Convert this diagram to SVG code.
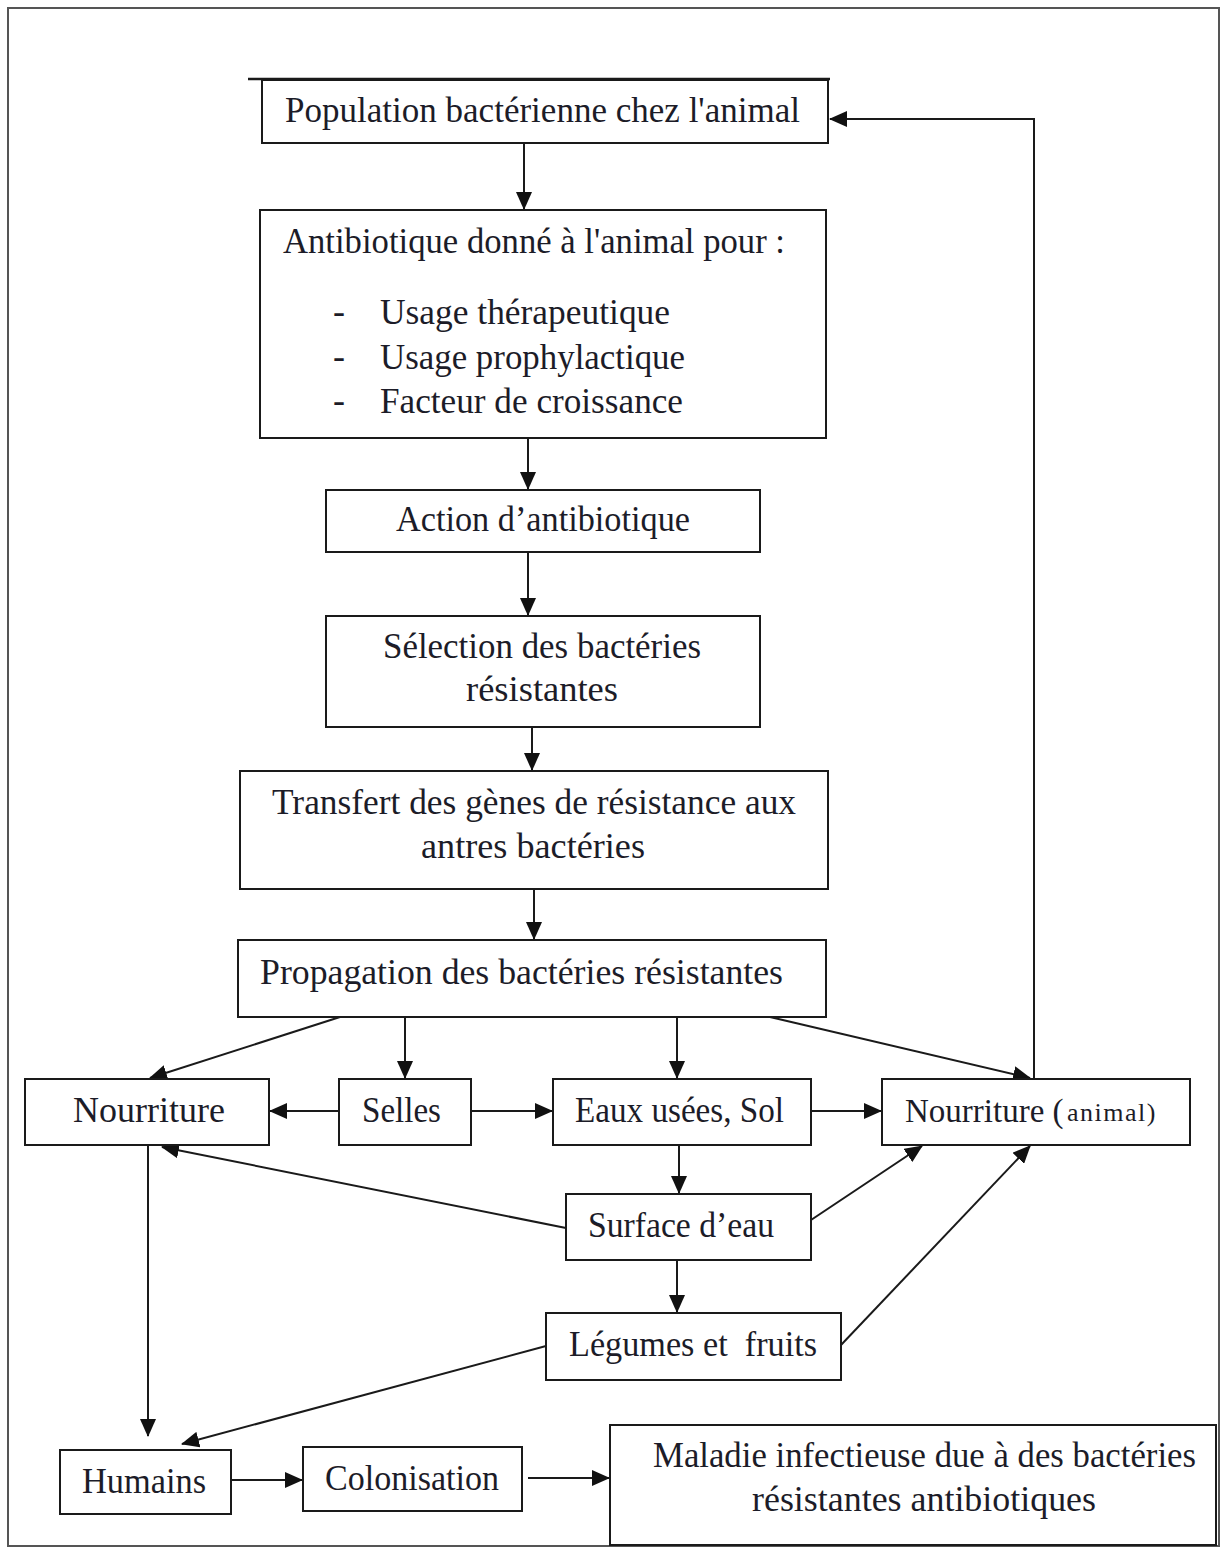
<svg xmlns="http://www.w3.org/2000/svg" width="1221" height="1549" viewBox="0 0 1221 1549">
<style>
.box{fill:#fff;stroke:#1a1a1a;stroke-width:2}
.t{font-family:"Liberation Serif","DejaVu Serif",serif;font-size:36px;fill:#1c1c28}
.s{font-family:"Liberation Serif","DejaVu Serif",serif;font-size:26px;letter-spacing:1.5px;fill:#1c1c28}
.ln{fill:none;stroke:#1a1a1a;stroke-width:2;marker-end:url(#ah)}
</style>
<defs>
<marker id="ah" markerUnits="userSpaceOnUse" markerWidth="18" markerHeight="16" refX="17" refY="8" orient="auto">
<path d="M0,0 L18,8 L0,16 Z" fill="#111"/>
</marker>
</defs>
<rect x="0" y="0" width="1221" height="1549" fill="#fff"/>
<rect x="8" y="8" width="1211" height="1538" fill="none" stroke="#555" stroke-width="2"/>

<g id="connectors">
<line class="ln" x1="524" y1="143" x2="524" y2="209"/>
<line class="ln" x1="528" y1="438" x2="528" y2="489"/>
<line class="ln" x1="528" y1="552" x2="528" y2="615"/>
<line class="ln" x1="532" y1="727" x2="532" y2="770"/>
<line class="ln" x1="534" y1="889" x2="534" y2="939"/>
<line class="ln" x1="340" y1="1017" x2="150" y2="1078"/>
<line class="ln" x1="405" y1="1017" x2="405" y2="1078"/>
<line class="ln" x1="677" y1="1017" x2="677" y2="1078"/>
<line class="ln" x1="770" y1="1017" x2="1030" y2="1078"/>
<line class="ln" x1="339" y1="1111" x2="270" y2="1111"/>
<line class="ln" x1="471" y1="1111" x2="552" y2="1111"/>
<line class="ln" x1="811" y1="1111" x2="881" y2="1111"/>
<line class="ln" x1="679" y1="1145" x2="679" y2="1193"/>
<line class="ln" x1="566" y1="1228" x2="162" y2="1147"/>
<line class="ln" x1="811" y1="1220" x2="922" y2="1146"/>
<line class="ln" x1="677" y1="1260" x2="677" y2="1312"/>
<line class="ln" x1="841" y1="1345" x2="1030" y2="1146"/>
<line class="ln" x1="546" y1="1346" x2="182" y2="1444"/>
<line class="ln" x1="148" y1="1145" x2="148" y2="1436"/>
<line class="ln" x1="231" y1="1480" x2="302" y2="1480"/>
<line class="ln" x1="528" y1="1478" x2="609" y2="1478"/>
<polyline class="ln" points="1034,1079 1034,119 830,119"/>
</g>

<g id="n1">
<rect class="box" x="262" y="80" width="566" height="63"/>
<line x1="248" y1="79" x2="830" y2="79" stroke="#1a1a1a" stroke-width="2.5"/>
<text class="t" x="285" y="122" textLength="515" lengthAdjust="spacingAndGlyphs">Population bactérienne chez l'animal</text>
</g>
<g id="n2">
<rect class="box" x="260" y="210" width="566" height="228"/>
<text class="t" x="283" y="253" textLength="502" lengthAdjust="spacingAndGlyphs">Antibiotique donné à l'animal pour :</text>
<text class="t" x="333" y="323">-</text>
<text class="t" x="380" y="324" textLength="290" lengthAdjust="spacingAndGlyphs">Usage thérapeutique</text>
<text class="t" x="333" y="368">-</text>
<text class="t" x="380" y="369" textLength="305" lengthAdjust="spacingAndGlyphs">Usage prophylactique</text>
<text class="t" x="333" y="412">-</text>
<text class="t" x="380" y="413" textLength="303" lengthAdjust="spacingAndGlyphs">Facteur de croissance</text>
</g>
<g id="n3">
<rect class="box" x="326" y="490" width="434" height="62"/>
<text class="t" x="396" y="531" textLength="294" lengthAdjust="spacingAndGlyphs">Action d’antibiotique</text>
</g>
<g id="n4">
<rect class="box" x="326" y="616" width="434" height="111"/>
<text class="t" x="383" y="658" textLength="318" lengthAdjust="spacingAndGlyphs">Sélection des bactéries</text>
<text class="t" x="466" y="701" textLength="152" lengthAdjust="spacingAndGlyphs">résistantes</text>
</g>
<g id="n5">
<rect class="box" x="240" y="771" width="588" height="118"/>
<text class="t" x="272" y="814" textLength="524" lengthAdjust="spacingAndGlyphs">Transfert des gènes de résistance aux</text>
<text class="t" x="421" y="858" textLength="224" lengthAdjust="spacingAndGlyphs">antres bactéries</text>
</g>
<g id="n6">
<rect class="box" x="238" y="940" width="588" height="77"/>
<text class="t" x="260" y="984" textLength="523" lengthAdjust="spacingAndGlyphs">Propagation des bactéries résistantes</text>
</g>
<g id="n7">
<rect class="box" x="25" y="1079" width="244" height="66"/>
<text class="t" x="73" y="1122" textLength="152" lengthAdjust="spacingAndGlyphs">Nourriture</text>
</g>
<g id="n8">
<rect class="box" x="339" y="1079" width="132" height="66"/>
<text class="t" x="362" y="1122" textLength="79" lengthAdjust="spacingAndGlyphs">Selles</text>
</g>
<g id="n9">
<rect class="box" x="553" y="1079" width="258" height="66"/>
<text class="t" x="575" y="1122" textLength="209" lengthAdjust="spacingAndGlyphs">Eaux usées, Sol</text>
</g>
<g id="n10">
<rect class="box" x="882" y="1079" width="308" height="66"/>
<text class="t" x="905" y="1122" style="font-size:33px">Nourriture (</text>
<text class="s" x="1067" y="1121">animal)</text>
</g>
<g id="n11">
<rect class="box" x="566" y="1194" width="245" height="66"/>
<text class="t" x="588" y="1237" textLength="186" lengthAdjust="spacingAndGlyphs">Surface d’eau</text>
</g>
<g id="n12">
<rect class="box" x="546" y="1313" width="295" height="67"/>
<text class="t" x="569" y="1356" textLength="248" lengthAdjust="spacingAndGlyphs" xml:space="preserve">Légumes et  fruits</text>
</g>
<g id="n13">
<rect class="box" x="60" y="1450" width="171" height="64"/>
<text class="t" x="82" y="1493" textLength="124" lengthAdjust="spacingAndGlyphs">Humains</text>
</g>
<g id="n14">
<rect class="box" x="303" y="1447" width="219" height="64"/>
<text class="t" x="325" y="1490" textLength="174" lengthAdjust="spacingAndGlyphs">Colonisation</text>
</g>
<g id="n15">
<rect class="box" x="610" y="1425" width="606" height="120"/>
<text class="t" x="653" y="1467" textLength="543" lengthAdjust="spacingAndGlyphs">Maladie infectieuse due à des bactéries</text>
<text class="t" x="752" y="1511" textLength="344" lengthAdjust="spacingAndGlyphs">résistantes antibiotiques</text>
</g>
</svg>
